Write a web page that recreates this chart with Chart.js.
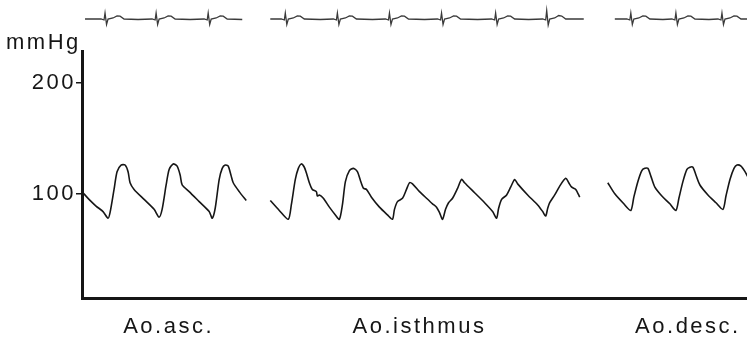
<!DOCTYPE html>
<html>
<head>
<meta charset="utf-8">
<script src="https://cdn.jsdelivr.net/npm/chart.js@4"></script>
<style>
  html, body { margin: 0; padding: 0; background: #fff; }
  #wrap { width: 747px; height: 337px; position: relative; }
</style>
</head>
<body>
<div id="wrap"><canvas id="chart"></canvas></div>
<script>
// time in ms, pressure in mmHg, ECG in mV
const sites = ['Ao.asc.', 'Ao.isthmus', 'Ao.desc.']
const siteLabelTime = [865, 3370, 6050]
const pressureTicks = [100, 200]
const pressureUnit = 'mmHg'

const ascTime = [10, 70, 140, 210, 260, 280, 320, 350, 390, 430, 460, 480, 520, 620, 720, 770, 800, 840, 870, 910, 950, 980, 1000, 1070, 1170, 1270, 1300, 1330, 1370, 1400, 1430, 1460, 1490, 1510, 1570, 1640]
const ascPressure = [101, 95, 89, 84, 78, 83, 104, 120, 126, 126, 120, 110, 104, 95, 86, 79, 86, 108, 122, 127, 125, 117, 108, 102, 93, 84, 78, 87, 113, 123, 126, 125, 116, 110, 102, 94]

const isthTime = [1880, 1970, 2060, 2090, 2130, 2160, 2190, 2220, 2240, 2270, 2300, 2340, 2350, 2370, 2410, 2470, 2530, 2570, 2600, 2630, 2670, 2710, 2750, 2780, 2810, 2840, 2890, 2970, 3050, 3100, 3120, 3150, 3200, 3240, 3270, 3300, 3370, 3440, 3500, 3540, 3570, 3600, 3630, 3660, 3700, 3750, 3790, 3820, 3920, 4020, 4100, 4140, 4160, 4190, 4240, 4280, 4320, 4350, 4450, 4550, 4600, 4630, 4650, 4670, 4720, 4770, 4830, 4860, 4890, 4930, 4970]
const isthPressure = [94, 85, 77, 90, 113, 123, 127, 124, 119, 110, 104, 102, 98, 99, 96, 88, 81, 77, 90, 111, 121, 123, 120, 112, 105, 104, 97, 88, 81, 77, 86, 93, 96, 104, 110, 109, 102, 96, 91, 88, 83, 77, 86, 92, 96, 105, 113, 110, 101, 92, 84, 78, 87, 95, 99, 106, 113, 109, 99, 90, 84, 80, 87, 92, 99, 107, 114, 110, 106, 104, 97]

const descTime = [5250, 5320, 5410, 5480, 5510, 5550, 5590, 5620, 5650, 5680, 5720, 5790, 5870, 5930, 5960, 6000, 6040, 6070, 6100, 6130, 6170, 6250, 6330, 6400, 6430, 6470, 6510, 6540, 6580, 6620, 6650]
const descPressure = [110, 100, 91, 85, 97, 111, 121, 123, 123, 116, 106, 98, 91, 85, 96, 111, 122, 124, 124, 117, 108, 99, 92, 86, 98, 113, 123, 126, 125, 120, 115]

const ascEcgTime = [30, 190, 220, 230, 245, 260, 310, 350, 380, 420, 560, 700, 730, 740, 755, 770, 820, 860, 890, 930, 1080, 1220, 1250, 1260, 1275, 1290, 1340, 1380, 1410, 1450, 1600]
const ascEcg = [0, 0, -0.1, 0.6, -0.55, 0, 0.1, 0.3, 0.28, 0, -0.05, 0, -0.1, 0.6, -0.55, 0, 0.1, 0.3, 0.28, 0, -0.05, 0, -0.1, 0.6, -0.55, 0, 0.1, 0.3, 0.28, 0, -0.05]

const isthEcgTime = [1880, 1990, 2020, 2030, 2045, 2060, 2110, 2150, 2180, 2220, 2380, 2510, 2540, 2550, 2565, 2580, 2630, 2670, 2700, 2740, 2900, 3030, 3060, 3070, 3085, 3100, 3150, 3190, 3220, 3260, 3420, 3550, 3580, 3590, 3605, 3620, 3670, 3710, 3740, 3780, 3950, 4090, 4120, 4130, 4145, 4160, 4210, 4250, 4280, 4320, 4460, 4600, 4630, 4640, 4655, 4670, 4720, 4760, 4790, 4830, 5010]
const isthEcg = [0, 0, -0.1, 0.6, -0.55, 0, 0.1, 0.3, 0.28, 0, -0.05, 0, -0.1, 0.6, -0.55, 0, 0.1, 0.3, 0.28, 0, -0.05, 0, -0.1, 0.6, -0.55, 0, 0.1, 0.3, 0.28, 0, -0.05, 0, -0.1, 0.6, -0.55, 0, 0.1, 0.3, 0.28, 0, -0.05, 0, -0.1, 0.6, -0.55, 0, 0.1, 0.3, 0.28, 0, -0.05, 0, -0.1, 0.85, -0.6, 0, 0.1, 0.35, 0.3, 0, 0]

const descEcgTime = [5320, 5440, 5470, 5480, 5495, 5510, 5560, 5600, 5630, 5670, 5800, 5890, 5920, 5930, 5945, 5960, 6010, 6050, 6080, 6120, 6260, 6350, 6380, 6390, 6405, 6420, 6470, 6510, 6540, 6580, 6640]
const descEcg = [0, 0, -0.1, 0.6, -0.55, 0, 0.1, 0.3, 0.28, 0, -0.05, 0, -0.1, 0.6, -0.55, 0, 0.1, 0.3, 0.28, 0, -0.05, 0, -0.1, 0.6, -0.55, 0, 0.1, 0.3, 0.28, 0, 0]

const INK = '#161616'
const FONT = { family: '"Liberation Sans", Arial, sans-serif', size: 22 }

const Trace = {
  points(times, values) {
    return times.map((t, i) => ({ x: t, y: values[i] }))
  },
  pressure(times, values) {
    return {
      data: Trace.points(times, values),
      yAxisID: 'y',
      borderColor: INK,
      borderWidth: 1.6,
      pointRadius: 0,
      tension: 0.25
    }
  },
  ecg(times, values) {
    return {
      data: Trace.points(times, values),
      yAxisID: 'yEcg',
      borderColor: '#3a3a3a',
      borderWidth: 1.3,
      pointRadius: 0,
      tension: 0
    }
  }
}

// no label overhang padding, the scale edges sit where the figure puts them
const noOverhang = s => {
  s.paddingTop = 0
  s.paddingBottom = 0
  s.paddingLeft = 0
  s.paddingRight = 0
}

const Extras = {
  id: 'extras',
  beforeDraw(chart) {
    chart.ctx.letterSpacing = '2.5px'
  },
  afterDraw(chart) {
    const ctx = chart.ctx
    const y = chart.scales.y
    ctx.save()
    ctx.font = '22px "Liberation Sans", Arial, sans-serif'
    ctx.fillStyle = INK
    ctx.textAlign = 'left'
    ctx.textBaseline = 'alphabetic'
    ctx.fillText(pressureUnit, 6, y.top - 3)
    ctx.restore()
  }
}

new Chart(document.getElementById('chart'), {
  type: 'line',
  data: {
    datasets: [
      Trace.pressure(ascTime, ascPressure),
      Trace.pressure(isthTime, isthPressure),
      Trace.pressure(descTime, descPressure),
      Trace.ecg(ascEcgTime, ascEcg),
      Trace.ecg(isthEcgTime, isthEcg),
      Trace.ecg(descEcgTime, descEcg)
    ]
  },
  options: {
    responsive: true,
    maintainAspectRatio: false,
    animation: false,
    layout: { padding: { top: 4, left: 0, right: 0, bottom: 0 } },
    plugins: { legend: { display: false }, tooltip: { enabled: false } },
    scales: {
      x: {
        type: 'linear',
        min: 0,
        max: 6640,
        afterBuildTicks: s => { s.ticks = siteLabelTime.map(v => ({ value: v })) },
        afterFit: s => { s.height = 39; noOverhang(s) },
        ticks: {
          callback: (v, i) => sites[i],
          font: FONT,
          color: INK,
          padding: 16,
          maxRotation: 0,
          autoSkip: false
        },
        grid: { display: false, drawTicks: false },
        border: { display: true, width: 3, color: INK }
      },
      y: {
        type: 'linear',
        position: 'left',
        stack: 'traces',
        stackWeight: 246,
        min: 6,
        max: 228,
        afterBuildTicks: s => { s.ticks = pressureTicks.map(v => ({ value: v })) },
        afterFit: s => { s.width = 82; noOverhang(s) },
        ticks: { font: FONT, color: INK, padding: 0 },
        grid: { display: true, drawOnChartArea: false, drawTicks: true, tickLength: 6, color: INK, lineWidth: 1.5 },
        border: { display: true, width: 3, color: INK }
      },
      yEcg: {
        type: 'linear',
        position: 'left',
        stack: 'traces',
        stackWeight: 48,
        min: -3.3,
        max: 1.5,
        afterFit: s => { s.width = 82; noOverhang(s) },
        ticks: { display: false },
        grid: { display: false },
        border: { display: false }
      }
    }
  },
  plugins: [Extras]
})
</script>
</body>
</html>
